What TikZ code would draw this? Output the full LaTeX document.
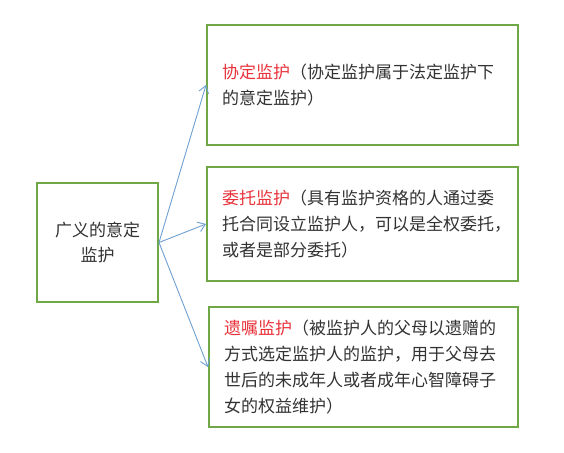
\documentclass[tikz,border=0pt]{standalone}
\usepackage{fontspec}
\newfontfamily\cjk{Noto Sans CJK SC}
\usetikzlibrary{arrows.meta,positioning}
\definecolor{boxgreen}{RGB}{112,168,71}
\definecolor{arrowblue}{RGB}{110,160,210}
\definecolor{labelred}{RGB}{232,50,58}
\definecolor{textgray}{RGB}{50,50,50}

\begin{document}
\begin{tikzpicture}
  [
  x=1bp, y=-1bp,
  line width=2bp, draw=boxgreen, >={Straight Barb[length=7bp,width=10bp]},
  kindbox/.style={rectangle, draw=boxgreen, line width=2bp, inner xsep=15bp, inner ysep=0pt,
    text=textgray, font=\cjk\fontsize{17bp}{25.7bp}\selectfont},
  link/.style={->, draw=arrowblue, line width=0.9bp}
  ]
  \useasboundingbox (0,0) rectangle (564,453);

  \node[kindbox, minimum width=121bp, minimum height=119bp, align=center, inner xsep=0pt]
    (root) at (97.5,242.5) {广义的意定\\监护};

  \node[kindbox, minimum width=311bp, minimum height=120bp, text width=281bp, align=left]
    (agreed) at (362.5,85) {\textcolor{labelred}{协定监护}（协定监护属于法定监护下\\的意定监护）};

  \node[kindbox, minimum width=311bp, minimum height=114bp, text width=281bp, align=left]
    (entrust) at (362.5,224) {\textcolor{labelred}{委托监护}（具有监护资格的人通过委\\托合同设立监护人，可以是全权委托，\\或者是部分委托）};

  \node[kindbox, minimum width=309bp, minimum height=120bp, text width=279bp, align=left]
    (testament) at (363.5,367) {\textcolor{labelred}{遗嘱监护}（被监护人的父母以遗赠的\\方式选定监护人的监护，用于父母去\\世后的未成年人或者成年心智障碍子\\女的权益维护）};

  % arrows from the root box
  \draw[link] (root.east) -- (agreed.west);
  \draw[link] (root.east) -- (entrust.west);
  \draw[link] (root.east) -- (testament.west);
\end{tikzpicture}
\end{document}
